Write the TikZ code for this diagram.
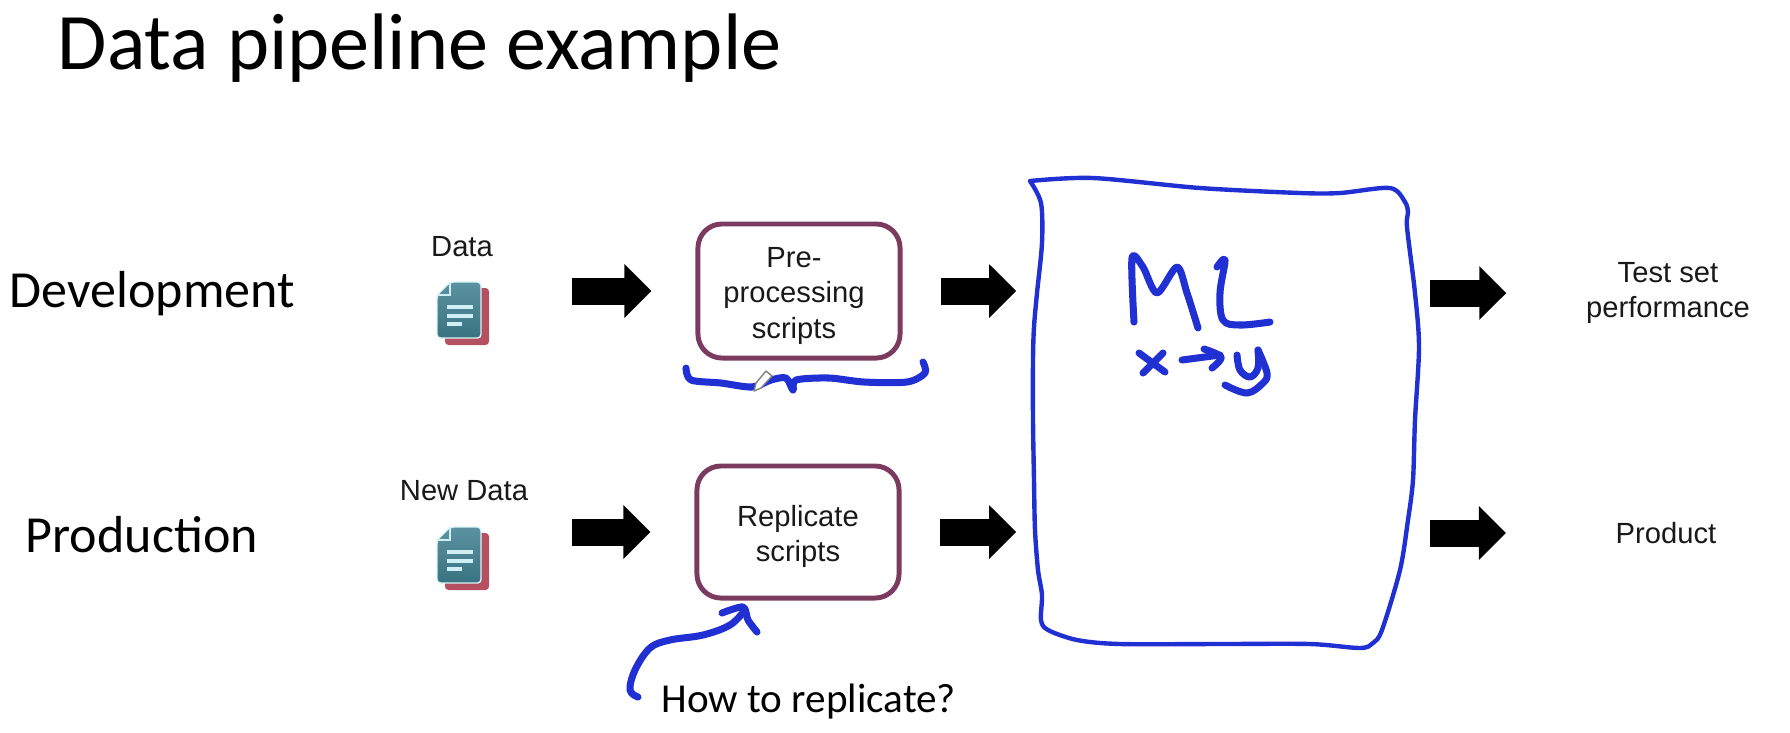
\documentclass[tikz,border=0pt]{standalone}
\usepackage{fontspec}
\setmainfont{Carlito}
\newfontfamily\boxfont{Liberation Sans}
\usetikzlibrary{arrows.meta, calc}
\definecolor{ink}{HTML}{2130D2}
\definecolor{plum}{HTML}{7A3B5E}
\definecolor{docfront}{HTML}{3F7F90}
\definecolor{docback}{HTML}{B4505F}
\definecolor{docline}{HTML}{CFEFF5}
\newcommand{\boxtop}{\rule{0pt}{0.3cm}}

\begin{document}
\begin{tikzpicture}[
  x=0.01cm, y=-0.01cm,
  lbl/.style={font=\boxfont\fontsize{8.3}{10}\selectfont, text=black!90, align=center, inner sep=0pt},
  row/.style={font=\fontsize{14.8}{17}\selectfont, text=black, inner sep=0pt},
  script/.style={draw=plum, line width=1.4pt, rounded corners=0.24cm, fill=white, minimum width=2.02cm, align=center, font=\boxfont\fontsize{8.3}{10}\selectfont, text=black!90, inner sep=0pt},
  doc/.style={minimum width=0.52cm, minimum height=0.63cm, inner sep=0pt},
  flow/.style={-{Triangle[length=0.27cm, width=0.52cm]}, line width=0.27cm, black},
  pen/.style={ink, line width=1.25pt, line cap=round, line join=round},
  thick pen/.style={ink, line width=2pt, line cap=round, line join=round},
]
\useasboundingbox (0,0) rectangle (1790,732);

% ---- headings ----
\node[anchor=west, font=\fontsize{22.8}{27}\selectfont, inner sep=0pt] (title) at (57,48) {Data pipeline example};
\node[row, anchor=west] (dev) at (9,294) {Development};
\node[row, anchor=west] (prod) at (25,535) {Production};

% ---- data files ----
\node[lbl] (data) at (462,247) {Data};
\node[lbl] (newdata) at (464,491) {New Data};
\node[doc] (docone) at (463,314) {};
\node[doc] (doctwo) at (463,559) {};
\foreach \n in {docone, doctwo} {
  \begin{scope}[shift={(\n.center)}]
    \fill[docback, rounded corners=1pt] (-18,-26) rectangle (26,31);
    \shade[top color=docfront!85!white, bottom color=docfront!90!black, draw=docline!70, line width=0.4pt, rounded corners=1pt]
      (-13,-32) -- (18,-32) -- (18,24) -- (-26,24) -- (-26,-19) -- cycle;
    \draw[docline, line width=0.5pt] (-13,-32) -- (-13,-19) -- (-26,-19);
    \draw[docline, line width=1pt] (-16,-7) -- (10,-7) (-16,2) -- (10,2) (-16,10) -- (-1,10);
  \end{scope}
}

% ---- scripts, ML and results ----
\node[script, minimum height=1.34cm] (prep) at (799,291)
  {\hspace*{-0.1cm}\boxtop Pre-\\\hspace*{-0.1cm}processing\\\hspace*{-0.1cm}scripts};
\node[script, minimum height=1.32cm] (repl) at (798,532) {\boxtop Replicate\\scripts};
\node[minimum width=3.8cm, minimum height=4.6cm, inner sep=0pt] (mlbox) at (1225,412) {};
\node[lbl] (test) at (1668,293) {Test set\\performance};
\node[lbl] (product) at (1666,533) {Product};

% ---- block arrows ----
\draw[flow, shorten <=0.82cm, shorten >=0.44cm] (prep.west -| docone.east) -- (prep.west);
\draw[flow, shorten <=0.82cm, shorten >=0.44cm] (repl.west -| doctwo.east) -- (repl.west);
\draw[flow, shorten <=0.38cm, shorten >=0.18cm] (prep.east) -- (prep.east -| mlbox.west);
\draw[flow, shorten <=0.38cm, shorten >=0.18cm] (repl.east) -- (repl.east -| mlbox.west);
\draw[flow, shorten <=0.14cm, shorten >=0.79cm] (test.west -| mlbox.east) -- (test.west);
\draw[flow, shorten <=0.14cm, shorten >=1.09cm] (product.west -| mlbox.east) -- (product.west);

% ---- hand drawn box ----
\draw[pen] plot[smooth, tension=0.5] coordinates {
  (1030,181) (1093,178) (1200,188) (1300,193) (1340,193) (1390,188) (1405,202) (1408,213)
  (1407,227) (1415,293) (1419,347) (1415,420) (1413,480) (1408,520) (1400,570) (1382,630)
  (1373,643) (1360,648) (1310,644) (1220,644) (1120,644) (1077,640) (1048,630) (1041,620)
  (1042,595) (1038,570) (1035,530) (1034,480) (1033,420) (1033,360) (1034,327) (1037,293)
  (1042,243) (1041,203) (1030,181)};

% ---- ML, x -> y ----
\draw[thick pen] plot[smooth, tension=0.5] coordinates {
  (1134,322) (1132,258) (1143,267) (1157,293) (1177,267) (1187,293) (1198,328)};
\draw[thick pen] plot[smooth, tension=0.6] coordinates {
  (1217,267) (1225,260) (1220,293) (1223,320) (1240,325) (1270,322)};
\draw[thick pen] (1139,353) -- (1165,372) (1163,353) -- (1143,373);
\draw[thick pen] (1182,360) -- (1220,355);
\draw[thick pen] plot[smooth, tension=0.6] coordinates {(1204,349) (1221,357) (1212,368)};
\draw[thick pen] plot[smooth, tension=0.6] coordinates {
  (1237,355) (1240,370) (1250,377) (1258,368) (1258,350)};
\draw[thick pen] plot[smooth, tension=0.6] coordinates {
  (1258,350) (1267,373) (1263,383) (1247,393) (1225,385)};

% ---- brace under pre-processing ----
\draw[thick pen] plot[smooth, tension=0.5] coordinates {
  (686,368) (691,380) (721,383) (752,387) (771,380) (786,378) (793,390) (796,380)
  (829,378) (864,382) (907,382) (925,373) (923,362)};
\draw[black!50, fill=white, line width=0.4pt, line join=round]
  (754,391) -- (756,383) -- (766,371) -- (772,376) -- (761,388) -- cycle;

% ---- how to replicate ----
\node[anchor=west, font=\fontsize{11.7}{14}\selectfont, inner sep=0pt] (how) at (661,702) {How to replicate?};
\draw[thick pen] plot[smooth, tension=0.6] coordinates {
  (638,697) (630,690) (635,670) (650,648) (670,640) (703,635) (730,625) (745,610)};
\draw[thick pen] plot[smooth, tension=0.5] coordinates {(722,613) (743,607) (748,620) (757,632)};
\end{tikzpicture}
\end{document}
